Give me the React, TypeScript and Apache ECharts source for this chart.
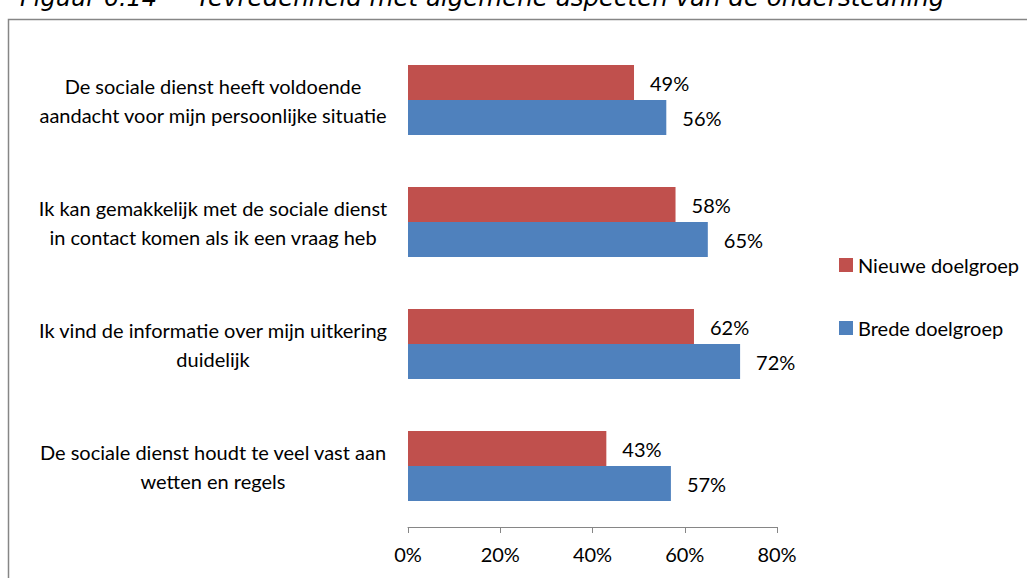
import React, { useEffect, useRef } from "react";
import * as echarts from "echarts";

const categories = [
  "De sociale dienst heeft voldoende\naandacht voor mijn persoonlijke situatie",
  "Ik kan gemakkelijk met de sociale dienst\nin contact komen als ik een vraag heb",
  "Ik vind de informatie over mijn uitkering\nduidelijk",
  "De sociale dienst houdt te veel vast aan\nwetten en regels",
];
const nieuweDoelgroep = [49, 58, 62, 43];
const bredeDoelgroep = [56, 65, 72, 57];
const seriesNames = ["Nieuwe doelgroep", "Brede doelgroep"];
const titleLabel = "Figuur 6.14";
const titleText = "Tevredenheid met algemene aspecten van de ondersteuning";

const FONT = "Lato";
const FS = 20;

export default function App() {
  const ref = useRef<HTMLDivElement>(null);
  useEffect(() => {
    if (!ref.current) return;
    const chart = echarts.init(ref.current, undefined, { renderer: "svg" });
    const valueLabel = {
      show: true,
      position: "right",
      distance: 16,
      formatter: "{c}%",
      color: "#000",
      fontFamily: FONT,
      fontSize: FS,
    };
    chart.setOption({
      animation: false,
      backgroundColor: "#ffffff",
      textStyle: { fontFamily: FONT },
      grid: { left: 408, width: 369, top: 39, height: 488, containLabel: false },
      legend: {
        orient: "vertical",
        left: 834,
        top: 250,
        itemWidth: 14,
        itemHeight: 14,
        itemGap: 43,
        icon: "rect",
        data: seriesNames,
        textStyle: { fontFamily: FONT, fontSize: FS, color: "#000", lineHeight: 20 },
      },
      xAxis: {
        type: "value",
        min: 0,
        max: 80,
        interval: 20,
        axisLine: { show: true, lineStyle: { color: "#868686", width: 1 } },
        axisTick: { show: true, length: 6, lineStyle: { color: "#868686" } },
        splitLine: { show: false },
        axisLabel: {
          formatter: "{value}%",
          color: "#000",
          fontFamily: FONT,
          fontSize: FS,
          margin: 17,
        },
      },
      yAxis: {
        type: "category",
        inverse: true,
        data: categories,
        axisLine: { show: false },
        axisTick: { show: false },
        axisLabel: {
          align: "center",
          margin: 195,
          color: "#000",
          fontFamily: FONT,
          fontSize: FS,
          lineHeight: 29,
        },
      },
      series: [
        {
          name: seriesNames[0],
          type: "bar",
          data: nieuweDoelgroep,
          barWidth: 35,
          barGap: "0%",
          itemStyle: { color: "#C0504D" },
          label: valueLabel,
        },
        {
          name: seriesNames[1],
          type: "bar",
          data: bredeDoelgroep,
          barWidth: 35,
          barGap: "0%",
          itemStyle: { color: "#4F81BD" },
          label: valueLabel,
        },
      ],
      graphic: [
        {
          type: "polyline",
          shape: { points: [[8.5, 600], [8.5, 19.5], [1030, 19.5]] },
          style: { stroke: "#868686", lineWidth: 1.5, fill: "none" },
        },
        {
          type: "text",
          x: 20,
          y: 10,
          style: {
            text: titleLabel,
            font: "italic 24px 'DejaVu Sans'",
            fill: "#000",
            textVerticalAlign: "bottom",
          },
        },
        {
          type: "text",
          x: 196,
          y: 10,
          style: {
            text: titleText,
            font: "italic 24.5px 'DejaVu Sans'",
            fill: "#000",
            textVerticalAlign: "bottom",
          },
        },
      ],
    });
    return () => chart.dispose();
  }, []);
  return (
    <div
      ref={ref}
      style={{ position: "fixed", left: 0, top: 0, width: 1027, height: 578 }}
    />
  );
}
